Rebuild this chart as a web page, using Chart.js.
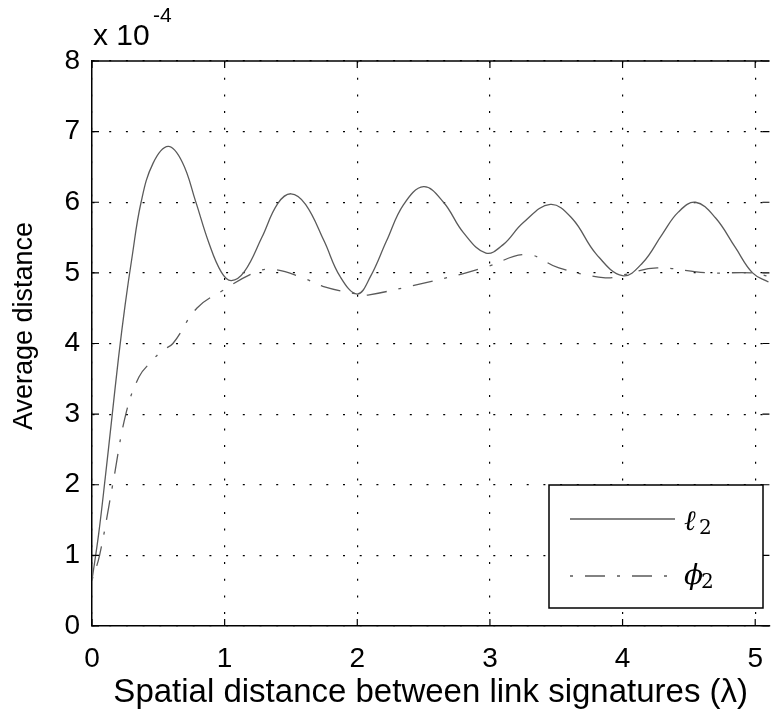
<!DOCTYPE html>
<html>
<head>
<meta charset="utf-8">
<style>
  html, body { margin: 0; padding: 0; background: #fff; }
  #wrap { width: 779px; height: 723px; position: relative; }
</style>
</head>
<body>
<div id="wrap"><canvas id="myChart"></canvas></div>
<script src="https://cdn.jsdelivr.net/npm/chart.js@4/dist/chart.umd.min.js"></script>
<script>
// l2 curve (solid), values in units of 1e-4
const l2X = [0, 0.05, 0.1, 0.15, 0.2, 0.25, 0.3, 0.37, 0.46, 0.574, 0.68, 0.78, 0.88, 0.975, 1.05, 1.15, 1.28, 1.40, 1.50, 1.61, 1.75, 1.87, 2.0, 2.10, 2.22, 2.35, 2.50, 2.65, 2.80, 2.97, 3.10, 3.25, 3.455, 3.62, 3.80, 4.0, 4.15, 4.30, 4.42, 4.55, 4.70, 4.85, 4.98, 5.1];
const l2Y = [0.65, 1.3, 2.1, 2.95, 3.8, 4.55, 5.2, 6.0, 6.55, 6.79, 6.57, 6.02, 5.43, 5.01, 4.89, 5.02, 5.5, 5.98, 6.12, 5.97, 5.45, 4.95, 4.70, 4.95, 5.45, 5.97, 6.22, 6.0, 5.57, 5.28, 5.40, 5.71, 5.97, 5.77, 5.27, 4.96, 5.14, 5.55, 5.86, 6.0, 5.78, 5.36, 5.0, 4.87];

// phi2 curve (dash-dot)
const phiX = [0, 0.057, 0.156, 0.255, 0.355, 0.45, 0.53, 0.61, 0.79, 0.985, 1.22, 1.36, 1.59, 1.74, 2.0, 2.09, 2.51, 2.78, 2.98, 3.28, 3.52, 3.87, 4.0, 4.26, 4.64, 4.98, 5.1];
const phiY = [0.65, 1, 2, 3, 3.53, 3.75, 3.9, 4.0, 4.5, 4.75, 5.0, 5.05, 4.93, 4.81, 4.70, 4.69, 4.86, 4.98, 5.09, 5.26, 5.07, 4.93, 4.97, 5.07, 5.0, 5.0, 4.95];

const xTicks = [0, 1, 2, 3, 4, 5];
const yTicks = [0, 1, 2, 3, 4, 5, 6, 7, 8];

const seriesNames = ["\u2113", "\u03d5"];
const lineGray = "#5a5a5a";
const phiDash = [3, 12, 20, 12];
const sans = '"Liberation Sans", Arial, sans-serif';

function toPoints(xs, ys) {
  return xs.map((x, i) => ({ x: x, y: ys[i] }));
}

// frame, inward ticks, exponent label, y title and the boxed legend
const decorations = {
  id: "decorations",
  afterDraw(chart) {
    const c = chart.ctx;
    const a = chart.chartArea;
    const xs = chart.scales.x;
    const ys = chart.scales.y;
    c.save();
    c.strokeStyle = "#000";
    c.lineWidth = 1.5;
    c.beginPath();
    c.moveTo(a.left, a.top);
    c.lineTo(a.right, a.top);
    c.stroke();

    c.lineWidth = 1.2;
    c.beginPath();
    xTicks.forEach(v => {
      const px = xs.getPixelForValue(v);
      c.moveTo(px, a.bottom); c.lineTo(px, a.bottom - 7);
      c.moveTo(px, a.top); c.lineTo(px, a.top + 7);
    });
    yTicks.forEach(v => {
      const py = ys.getPixelForValue(v);
      c.moveTo(a.left, py); c.lineTo(a.left + 7, py);
      c.moveTo(a.right, py); c.lineTo(a.right - 7, py);
    });
    c.stroke();

    // x 10^-4
    c.fillStyle = "#000";
    c.textBaseline = "alphabetic";
    c.textAlign = "left";
    c.font = "30px " + sans;
    c.fillText("x 10", 93, 45);
    c.font = "21px " + sans;
    c.fillText("-4", 153, 22);

    // y axis title
    c.save();
    c.translate(32, 326);
    c.rotate(-Math.PI / 2);
    c.textAlign = "center";
    c.font = "27px " + sans;
    c.fillText("Average distance", 0, 0);
    c.restore();

    // legend
    const bx = 549, by = 485, bw = 214, bh = 123;
    c.fillStyle = "#fff";
    c.fillRect(bx, by, bw, bh);
    c.lineWidth = 1.5;
    c.strokeStyle = "#000";
    c.strokeRect(bx, by, bw, bh);

    c.strokeStyle = lineGray;
    c.lineWidth = 1.3;
    c.beginPath();
    c.moveTo(570, 519); c.lineTo(675, 519);
    c.stroke();
    c.setLineDash(phiDash);
    c.beginPath();
    c.moveTo(570, 576); c.lineTo(675, 576);
    c.stroke();
    c.setLineDash([]);

    c.fillStyle = "#000";
    c.textAlign = "left";
    c.font = 'italic 28px "DejaVu Serif", serif';
    c.fillText(seriesNames[0], 684, 530);
    c.fillText(seriesNames[1], 684, 584);
    c.font = '20px "DejaVu Serif", serif';
    c.fillText("2", 699, 534);
    c.fillText("2", 701, 588);
    c.restore();
  }
};

const ctx = document.getElementById("myChart");
new Chart(ctx, {
  type: "line",
  data: {
    datasets: [
      {
        label: "l2",
        data: toPoints(l2X, l2Y),
        borderColor: lineGray,
        borderWidth: 1.3,
        pointRadius: 0,
        tension: 0.4,
        fill: false,
      },
      {
        label: "phi2",
        data: toPoints(phiX, phiY),
        borderColor: lineGray,
        borderWidth: 1.3,
        borderDash: phiDash,
        pointRadius: 0,
        tension: 0.4,
        fill: false,
      },
    ],
  },
  options: {
    responsive: true,
    maintainAspectRatio: false,
    animation: false,
    layout: { padding: { top: 61, right: 0, left: 0, bottom: 0 } },
    plugins: {
      legend: { display: false },
      tooltip: { enabled: false },
    },
    scales: {
      x: {
        type: "linear",
        min: 0,
        max: 5.107,
        afterFit(scale) { scale.height = 97; },
        afterBuildTicks(scale) { scale.ticks = xTicks.map(v => ({ value: v })); },
        ticks: {
          stepSize: 1,
          includeBounds: false,
          padding: 16,
          color: "#000",
          font: { size: 28, family: sans },
        },
        grid: { color: "#000", lineWidth: 1.2, drawTicks: false },
        border: { display: true, color: "#000", width: 1.5, dash: [2, 14.7] },
        title: {
          display: true,
          text: "Spatial distance between link signatures (\u03bb)",
          color: "#000",
          font: { size: 33, family: sans },
          padding: { top: 0, bottom: 10 },
        },
      },
      y: {
        min: 0,
        max: 8,
        afterFit(scale) { scale.width = 92; },
        afterBuildTicks(scale) { scale.ticks = yTicks.map(v => ({ value: v })); },
        ticks: {
          stepSize: 1,
          padding: 12,
          color: "#000",
          font: { size: 28, family: sans },
        },
        grid: { color: "#000", lineWidth: 1.2, drawTicks: false },
        border: { display: true, color: "#000", width: 1.5, dash: [2, 14.7] },
      },
    },
  },
  plugins: [decorations],
});
</script>
</body>
</html>
